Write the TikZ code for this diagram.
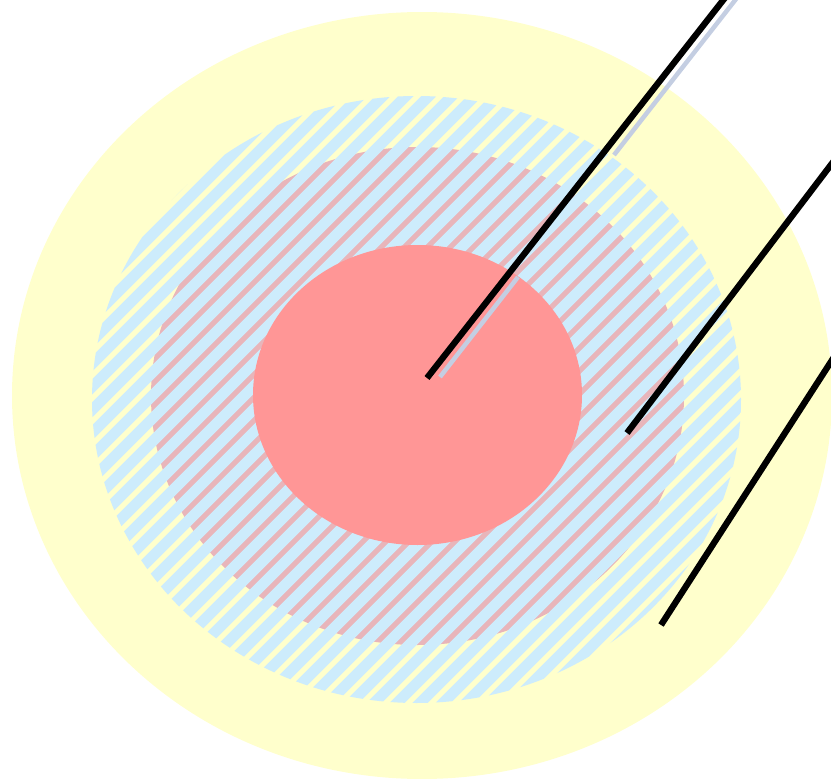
\documentclass[tikz,border=0pt]{standalone}
\definecolor{zoneyellow}{RGB}{255,255,204}
\definecolor{zoneblue}{RGB}{205,236,252}
\definecolor{zonepink}{RGB}{232,181,186}
\definecolor{zonered}{RGB}{255,150,150}
\definecolor{shadowgrey}{RGB}{196,206,226}
\begin{document}
\begin{tikzpicture}[x=1pt, y=-1pt]
  \useasboundingbox (0,0) rectangle (831,779);
  \clip (0,0) rectangle (831,779);
  % Outer zone
  \fill[zoneyellow] (422,395.5) ellipse [x radius=410, y radius=383.5];
  % Middle zone
  \fill[zonepink] (417.5,396) ellipse [x radius=266.5, y radius=249];
  \begin{scope}
    \clip (416.5,399.5) ellipse [x radius=324.5, y radius=303.5];
    \foreach \c in {180,203,...,1480}
      \draw[zoneblue, line width=10.8pt] (\c-720,720) -- (\c-80,80);
  \end{scope}
  % Core
  \fill[zonered] (417.5,395) ellipse [x radius=164.5, y radius=150];
  % Shadow of the first line
  \coordinate (S1) at (440,377);
  \coordinate (S2) at (518,277);
  \coordinate (S3) at (614,155);
  \coordinate (S4) at (747,-15);
  \draw[shadowgrey, line width=4.5pt] (S1) -- (S2);
  \draw[shadowgrey, line width=4.5pt] (S3) -- (S4);
  % Lines
  \coordinate (A1) at (427,378);
  \coordinate (A2) at (735,-15);
  \draw[line width=6.3pt] (A1) -- (A2);
  \coordinate (B1) at (627,433);
  \coordinate (B2) at (846,145);
  \draw[line width=6.3pt] (B1) -- (B2);
  \coordinate (C1) at (661,625);
  \coordinate (C2) at (845,340);
  \draw[line width=6.3pt] (C1) -- (C2);
\end{tikzpicture}
\end{document}
